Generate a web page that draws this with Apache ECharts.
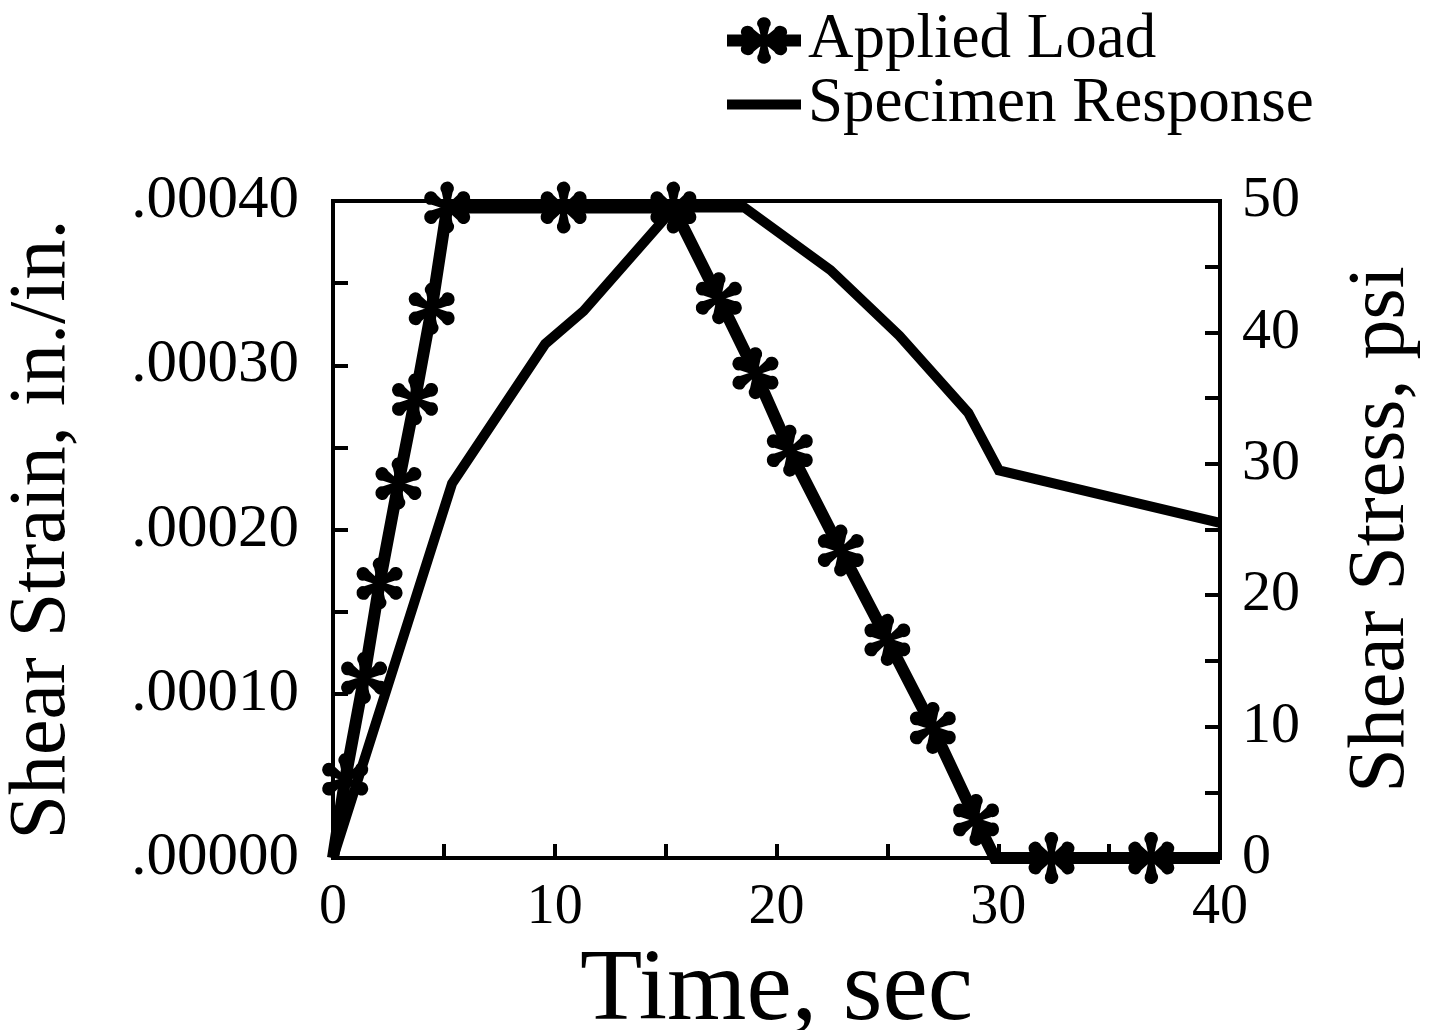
<!DOCTYPE html>
<html>
<head>
<meta charset="utf-8">
<script src="https://cdn.jsdelivr.net/npm/echarts@6/dist/echarts.min.js"></script>
<style>
html,body{margin:0;padding:0;background:#fff;}
#chart{width:1438px;height:1030px;}
</style>
</head>
<body>
<div id="chart"></div>
<script>
// ---- data ----
const loadTime   = [0, 0.55, 1.4, 2.1, 2.95, 3.7, 4.45, 5.15, 10.4, 15.35, 17.4, 19.05, 20.6, 22.9, 25.0, 27.05, 29.0, 29.85, 32.4, 36.9, 40];
const loadPsi    = [0, 6, 13.7, 20.9, 28.5, 34.9, 41.8, 49.5, 49.5, 49.5, 42.6, 36.9, 31.0, 23.4, 16.6, 9.9, 2.9, 0, 0, 0, 0];
const loadMarker = [0, 1, 1, 1, 1, 1, 1, 1, 1, 1, 1, 1, 1, 1, 1, 1, 1, 0, 1, 1, 0];

const respTime   = [0, 5.37, 9.57, 11.3, 15.4, 18.55, 22.43, 25.54, 28.65, 30.03, 40];
const respStrain = [0, 0.000228, 0.000313, 0.000333, 0.000396, 0.000396, 0.000358, 0.000318, 0.000271, 0.000236, 0.000204];

const xTickLabels      = ['0', '10', '20', '30', '40'];
const strainTickLabels = ['.00000', '.00010', '.00020', '.00030', '.00040'];
const stressTickLabels = ['0', '10', '20', '30', '40', '50'];

const seriesNames = ['Applied Load', 'Specimen Response'];
const titles = { x: 'Time, sec', yLeft: 'Shear Strain, in./in.', yRight: 'Shear Stress, psi' };

// ---- six-petal asterisk symbol ----
function asteriskPath() {
  const angles = [-90, 90, -30, 30, 150, 210];
  const d = 70, r = 25, w0 = 8;
  let s = '';
  angles.forEach(a => {
    const rad = a * Math.PI / 180;
    const ux = Math.cos(rad), uy = Math.sin(rad);
    const px = -uy, py = ux;
    const bx = ux * d, by = uy * d;
    const f = v => (v + 100).toFixed(2);
    const s0x = px * w0, s0y = py * w0;
    const ax = bx + r * (0.8 * px - 0.6 * ux), ay = by + r * (0.8 * py - 0.6 * uy);
    const cx = bx + r * (-0.8 * px - 0.6 * ux), cy = by + r * (-0.8 * py - 0.6 * uy);
    s += 'M' + f(s0x) + ' ' + f(s0y) + ' L' + f(ax) + ' ' + f(ay) +
         ' A' + r + ' ' + r + ' 0 1 0 ' + f(cx) + ' ' + f(cy) +
         ' L' + f(-s0x) + ' ' + f(-s0y) + ' Z ';
  });
  return 'path://' + s;
}
const STAR = asteriskPath();

const FONT = "'Liberation Serif', 'Times New Roman', serif";

const loadData = loadTime.map((t, i) => loadMarker[i]
  ? { value: [t, loadPsi[i]] }
  : { value: [t, loadPsi[i]], symbol: 'none' });
const respData = respTime.map((t, i) => [t, respStrain[i]]);

const chart = echarts.init(document.getElementById('chart'), null, { renderer: 'canvas' });

const axisLineStyle = { color: '#000', width: 4 };

chart.setOption({
  animation: false,
  backgroundColor: '#fff',
  grid: {
    left: 333, right: 218, top: 201, bottom: 172,
    outerBoundsMode: 'none', containLabel: false,
    show: true, borderColor: '#000', borderWidth: 4, backgroundColor: 'transparent'
  },
  legend: {
    orient: 'vertical',
    left: 716, top: 4,
    itemWidth: 74, itemHeight: 58, itemGap: 1,
    lineStyle: { width: 'inherit' },
    data: [
      { name: seriesNames[0] },
      { name: seriesNames[1], itemStyle: { opacity: 0 } }
    ],
    textStyle: { fontFamily: FONT, fontSize: 63, color: '#000', lineHeight: 60, padding: [0, 0, 0, 2] }
  },
  xAxis: {
    type: 'value', min: 0, max: 40, interval: 5,
    name: titles.x, nameLocation: 'middle', nameGap: 80,
    nameTextStyle: { fontFamily: FONT, fontSize: 102, color: '#000' },
    axisLine: { show: true, lineStyle: axisLineStyle },
    axisTick: { show: true, inside: true, length: 14, lineStyle: axisLineStyle },
    axisLabel: {
      margin: 22, fontFamily: FONT, fontSize: 56, color: '#000',
      formatter: v => (v % 10 === 0 ? xTickLabels[v / 10] : '')
    },
    splitLine: { show: false }
  },
  yAxis: [
    {
      type: 'value', min: 0, max: 0.0004, interval: 0.00005, position: 'left',
      name: titles.yLeft, nameLocation: 'middle', nameGap: 250,
      nameTextStyle: { fontFamily: FONT, fontSize: 80, color: '#000' },
      axisLine: { show: true, lineStyle: axisLineStyle },
      axisTick: { show: true, inside: true, length: 15, lineStyle: axisLineStyle },
      axisLabel: {
        margin: 34, fontFamily: FONT, fontSize: 61, color: '#000',
        formatter: v => {
          const k = Math.round(v / 0.00005);
          return k % 2 === 0 ? strainTickLabels[k / 2] : '';
        }
      },
      splitLine: { show: false }
    },
    {
      type: 'value', min: 0, max: 50, interval: 5, position: 'right',
      name: titles.yRight, nameLocation: 'middle', nameGap: 122,
      nameTextStyle: { fontFamily: FONT, fontSize: 80, color: '#000' },
      axisLine: { show: true, lineStyle: axisLineStyle },
      axisTick: { show: true, inside: true, length: 15, lineStyle: axisLineStyle },
      axisLabel: {
        margin: 22, fontFamily: FONT, fontSize: 58, color: '#000',
        formatter: v => (v % 10 === 0 ? stressTickLabels[v / 10] : '')
      },
      splitLine: { show: false }
    }
  ],
  series: [
    {
      name: seriesNames[1], type: 'line', yAxisIndex: 0,
      data: respData, symbol: 'none', showSymbol: false,
      lineStyle: { color: '#000', width: 10, join: 'miter' },
      itemStyle: { color: '#000' },
      z: 3
    },
    {
      name: seriesNames[0], type: 'line', yAxisIndex: 1,
      data: loadData, symbol: STAR, symbolSize: [46, 52], showAllSymbol: true,
      lineStyle: { color: '#000', width: 12, join: 'miter' },
      itemStyle: { color: '#000' },
      z: 4
    }
  ]
});
</script>
</body>
</html>
